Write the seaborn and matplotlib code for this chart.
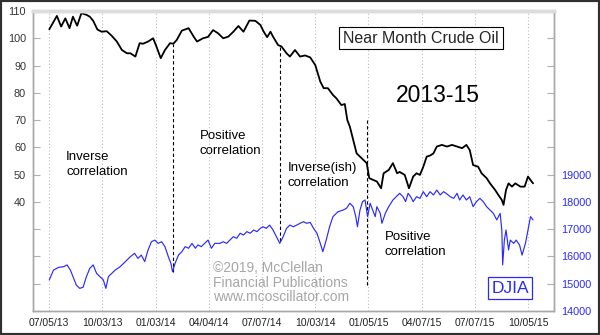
import matplotlib
matplotlib.use("Agg")
import matplotlib.pyplot as plt
from matplotlib.patches import Rectangle
import seaborn as sns
import pandas as pd

# ---- data (trading-day index since 07/05/13) ----
oil_day = [0, 9, 14, 19, 24, 28, 33, 38, 44, 48, 52, 57, 62, 68, 74, 80, 86, 92, 96, 102,
           107, 111, 117, 123, 127, 132, 137, 143, 147, 151, 157, 165, 171, 175, 182, 188, 194, 200, 206, 212,
           218, 224, 230, 237, 244, 250, 254, 258, 262, 265, 271, 275, 281, 285, 291, 297, 303, 309, 315, 321,
           325, 330, 336, 340, 346, 350, 353, 356, 360, 364, 368, 372, 376, 379, 384, 388, 393, 396, 402, 407,
           412, 415, 421, 426, 431, 435, 439, 443, 447, 451, 455, 459, 465, 471, 477, 483, 489, 494, 498, 502,
           508, 512, 518, 522, 528, 532, 536, 538, 541, 544, 548, 552, 558, 563, 567, 570, 573]
oil_price = [103.3, 108.2, 104.3, 107.3, 103.7, 107.9, 104.6, 109.2, 108.6, 107.9, 106.4, 103.2, 102.4, 102.6, 100.9, 98.8, 95.7, 94.5, 94.5, 93.3,
             98.2, 98.0, 98.8, 100.0, 96.9, 92.7, 95.7, 98.2, 98.0, 99.4, 102.8, 103.7, 100.6, 98.8, 100.0, 100.5, 103.0, 101.8, 100.0, 100.6,
             102.4, 104.5, 102.4, 106.5, 106.4, 104.9, 102.4, 100.4, 102.4, 100.6, 97.5, 97.0, 94.5, 93.3, 95.7, 93.3, 93.7, 93.0, 90.2, 84.1,
             81.7, 81.7, 79.2, 78.0, 75.5, 75.9, 70.0, 67.6, 62.7, 57.8, 56.6, 55.4, 54.2, 48.7, 48.0, 47.5, 45.0, 50.5, 51.7, 54.2,
             50.5, 51.0, 49.9, 45.0, 49.3, 50.5, 49.9, 52.9, 56.6, 57.0, 57.8, 60.3, 60.9, 60.3, 60.9, 60.3, 59.7, 60.9, 59.0, 53.5,
             52.9, 50.5, 48.7, 46.8, 44.4, 42.5, 40.7, 38.9, 44.4, 46.8, 45.6, 46.8, 45.6, 45.6, 49.3, 48.0, 46.8]

djia_day = [0, 5, 11, 17, 21, 25, 28, 32, 36, 40, 44, 48, 52, 56, 60, 64, 67, 70, 74, 78,
            84, 90, 96, 101, 105, 109, 113, 117, 121, 125, 129, 133, 137, 141, 144, 146, 149, 153, 157, 161,
            165, 169, 173, 176, 180, 184, 188, 192, 196, 202, 206, 210, 214, 218, 222, 226, 230, 234, 238, 242,
            246, 250, 253, 257, 261, 265, 269, 273, 277, 281, 285, 289, 293, 297, 301, 305, 309, 313, 317, 321,
            324, 328, 332, 336, 342, 348, 352, 356, 360, 363, 365, 368, 371, 374, 377, 380, 383, 386, 388, 392,
            394, 398, 402, 407, 411, 415, 419, 422, 425, 428, 431, 435, 439, 443, 447, 451, 455, 459, 463, 467,
            470, 475, 479, 483, 486, 490, 494, 498, 502, 506, 510, 514, 518, 522, 526, 530, 534, 536, 537, 539,
            541, 544, 546, 550, 553, 557, 560, 564, 567, 570, 573]
djia_close = [15140, 15500, 15600, 15625, 15690, 15500, 15260, 14950, 14830, 14870, 15260, 15565, 15690, 15380, 15260, 15140, 14830, 15260, 15380, 15500,
              15625, 15810, 15990, 16115, 15930, 16050, 15810, 16240, 16540, 16600, 16480, 16540, 16360, 15990, 15750, 15440, 15750, 16050, 16175, 16360,
              16300, 16480, 16300, 16420, 16360, 16480, 16600, 16300, 16480, 16480, 16540, 16480, 16600, 16725, 16665, 16850, 16785, 16910, 16850, 16970,
              16910, 17030, 17090, 17030, 17150, 16970, 16725, 16480, 16725, 17030, 17150, 17090, 17150, 17215, 17275, 17215, 17250, 17030, 16850, 16480,
              16175, 16600, 17090, 17460, 17640, 17700, 17765, 17950, 17825, 17460, 17090, 17700, 18010, 18070, 17460, 17950, 17700, 17460, 17825, 17580,
              17215, 17580, 17825, 18070, 18190, 18315, 18190, 18010, 18315, 18190, 18010, 18190, 18130, 18375, 18190, 18375, 18255, 18435, 18255, 18375,
              18315, 18190, 18130, 18315, 18070, 18255, 18070, 18190, 17825, 18010, 18130, 18010, 17825, 17700, 17580, 17340, 17580, 16970, 15690, 16600,
              16970, 16240, 16600, 16480, 16600, 16420, 16050, 16480, 16970, 17460, 17340]

tick_days = [0, 63, 126, 189, 252, 315, 378, 441, 504, 567]
tick_labels = ["07/05/13", "10/03/13", "01/03/14", "04/04/14", "07/07/14",
               "10/03/14", "01/05/15", "04/07/15", "07/07/15", "10/05/15"]

oil_ticks = list(range(0, 111, 10))
oil_tick_labels = ["", "", "", "", "40", "50", "60", "70", "80", "90", "100", "110"]
djia_ticks = list(range(14000, 25001, 1000))
djia_tick_labels = ["14000", "15000", "16000", "17000", "18000", "19000", "", "", "", "", "", ""]

oil_df = pd.DataFrame({"day": oil_day, "oil": oil_price})
djia_df = pd.DataFrame({"day": djia_day, "djia": djia_close})

# ---- style ----
sns.set_style("white")
plt.rcParams["font.family"] = ["Liberation Sans", "DejaVu Sans"]

BLUE = "#2a2aff"
fig = plt.figure(figsize=(6, 3.35), dpi=100)
ax = fig.add_axes([33 / 600, 1 - 311 / 335, (554 - 33) / 600, 300 / 335])
ax2 = ax.twinx()

sns.lineplot(data=oil_df, x="day", y="oil", ax=ax, color="black", lw=1.3, sort=True)
sns.lineplot(data=djia_df, x="day", y="djia", ax=ax2, color=BLUE, lw=0.85, sort=True)

ax.set_xlim(-19.3, 597.8)
ax.set_ylim(0, 110)
ax2.set_ylim(14000, 25000)
ax.set_xlabel("")
ax.set_ylabel("")
ax2.set_ylabel("")

ax.set_xticks(tick_days)
ax.set_xticklabels(tick_labels)
ax.set_yticks(oil_ticks)
ax.set_yticklabels(oil_tick_labels)
ax2.set_yticks(djia_ticks)
ax2.set_yticklabels(djia_tick_labels)

ax.tick_params(axis="x", length=0, pad=5, labelsize=7.5, labelcolor="#222222")
ax.tick_params(axis="y", direction="in", length=5, color="#b0b0b0", pad=5,
               labelsize=7.8, labelcolor="#333333", left=True)
ax2.tick_params(axis="y", direction="in", length=5, color="#b0b0b0", pad=5,
                labelsize=7.8, labelcolor=BLUE, right=True)

ax.grid(axis="x", linestyle=(0, (1, 2)), color="#bdbdbd", lw=0.8)
ax.grid(axis="y", visible=False)
ax2.grid(False)

for a in (ax, ax2):
    for s in ("left", "right", "bottom"):
        a.spines[s].set_color("#a8a8a8")
        a.spines[s].set_linewidth(1.0)
    a.spines["top"].set_color("#dcdcdc")
    a.spines["top"].set_linewidth(2.5)

# ---- annotations ----
for x, y0, y1 in [(146, 14.4, 98.0), (273, 25.5, 97.0), (376, 9.5, 70.0)]:
    ax.plot([x, x], [y0, y1], color="black", lw=0.8, dashes=(3, 2.2))

txt = dict(fontsize=9.5, color="black", va="top", ha="left", linespacing=1.25)
ax.text(19.8, 58.5, "Inverse\ncorrelation", **txt)
ax.text(178.5, 66.2, "Positive\ncorrelation", **txt)
ax.text(282.7, 54.5, "Inverse(ish)\ncorrelation", **txt)
ax.text(397.6, 29.2, "Positive\ncorrelation", **txt)

ax.text(440.3, 100.1, "Near Month Crude Oil", fontsize=11.5, ha="center", va="center",
        bbox=dict(boxstyle="square,pad=0.25", fc="white", ec="black", lw=0.8))
ax.text(460.4, 79.2, "2013-15", fontsize=16.5, ha="center", va="center", color="black")
ax.text(193.9, 18.3, "\u00a92019, McClellan\nFinancial Publications\nwww.mcoscillator.com",
        fontsize=10, color="#a6a6a6", ha="left", va="top", linespacing=1.05)
ax.text(545.7, 8.4, "DJIA", fontsize=12.5, color=BLUE, ha="center", va="center",
        bbox=dict(boxstyle="square,pad=0.2", fc="white", ec=BLUE, lw=0.9))

fig.add_artist(Rectangle((0, 0), 1, 1, transform=fig.transFigure, fill=False,
                         lw=3, ec="#303030"))

fig.savefig("out.png", dpi=100, facecolor="white")
